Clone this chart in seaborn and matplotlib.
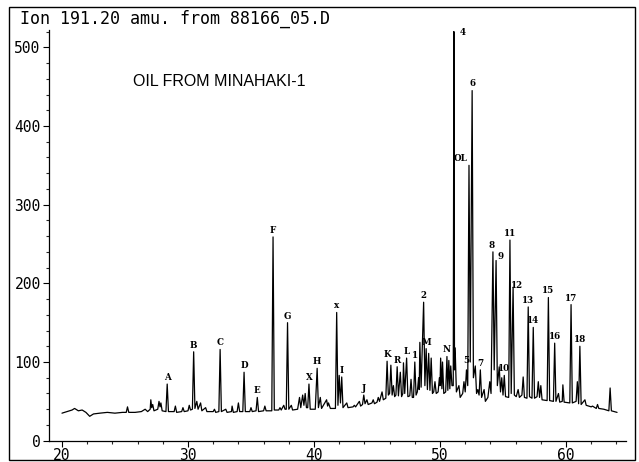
import matplotlib
matplotlib.use("Agg")
import matplotlib.pyplot as plt
from matplotlib.patches import Rectangle
from matplotlib.ticker import MultipleLocator
import seaborn as sns
import pandas as pd

# ---- data (retention time [min], abundance) ----
retention_time = [
    20.0, 20.4, 20.8, 21.0, 21.3, 21.6, 21.9, 22.2, 22.5, 23.0, 23.6, 24.2, 24.8, 25.1, 25.2, 25.3,
    25.8, 26.3, 26.6, 26.8, 27.0, 27.05, 27.12, 27.2, 27.3, 27.6, 27.7, 27.78, 27.85, 27.95,
    28.25, 28.35, 28.45, 28.9, 29.0, 29.1, 29.5, 29.6, 29.7, 30.0, 30.1, 30.2, 30.35, 30.45,
    30.55, 30.7, 30.8, 31.0, 31.1, 31.4, 31.5, 32.0, 32.1, 32.2, 32.45, 32.55, 32.65, 33.0,
    33.1, 33.45, 33.5, 33.6, 33.9, 34.0, 34.1, 34.35, 34.45, 34.55, 34.9, 35.0, 35.1, 35.4,
    35.5, 35.6, 36.0, 36.1, 36.2, 36.65, 36.75, 36.85, 37.2, 37.3, 37.4, 37.6, 37.7, 37.8,
    37.9, 38.0, 38.2, 38.3, 38.7, 38.85, 38.95, 39.1, 39.2, 39.3, 39.4, 39.5, 39.6, 39.7,
    40.1, 40.25, 40.35, 40.5, 40.6, 41.0, 41.08, 41.15, 41.3, 41.7, 41.8, 41.9, 42.0, 42.1,
    42.2, 42.3, 42.6, 42.7, 43.1, 43.2, 43.3, 43.6, 43.7, 43.85, 43.95, 44.05, 44.2, 44.3,
    44.6, 44.7, 44.8, 45.0, 45.1, 45.2, 45.4, 45.5, 45.7, 45.8, 45.9, 46.0, 46.1, 46.2,
    46.3, 46.4, 46.5, 46.6, 46.7, 46.85, 46.95, 47.05, 47.1, 47.2, 47.35, 47.45, 47.6, 47.7,
    47.8, 47.9, 48.0, 48.1, 48.2, 48.3, 48.35, 48.4, 48.5, 48.7, 48.8, 48.9, 49.0, 49.1,
    49.2, 49.3, 49.4, 49.5, 49.6, 49.7, 49.85, 49.95, 50.0, 50.05, 50.15, 50.2, 50.3, 50.45,
    50.55, 50.62, 50.7, 50.78, 50.85, 50.95, 51.05, 51.1, 51.15, 51.2, 51.3, 51.5, 51.6, 51.8,
    51.9, 52.0, 52.1, 52.2, 52.3, 52.4, 52.55, 52.65, 52.8, 52.9, 53.0, 53.1, 53.2, 53.3,
    53.5, 53.6, 53.8, 53.95, 54.05, 54.2, 54.3, 54.45, 54.55, 54.7, 54.8, 54.9, 55.0, 55.1,
    55.2, 55.45, 55.55, 55.65, 55.8, 55.9, 56.05, 56.2, 56.3, 56.5, 56.6, 56.7, 56.9, 57.0,
    57.1, 57.3, 57.4, 57.5, 57.7, 57.8, 57.9, 58.0, 58.1, 58.5, 58.6, 58.7, 59.0, 59.1,
    59.2, 59.4, 59.5, 59.7, 59.75, 59.85, 60.3, 60.4, 60.5, 60.8, 60.9, 61.0, 61.1, 61.2,
    61.5, 61.6, 62.0, 62.1, 62.4, 62.5, 62.6, 63.0, 63.4, 63.5, 63.6, 64.05,
]
abundance = [
    35, 37, 39, 41, 38, 39, 36, 31, 34, 35, 36, 35, 36, 36, 43, 36,
    36, 37, 40, 37, 40, 52, 42, 46, 38, 40, 50, 43, 48, 38,
    37, 72, 37, 37, 44, 36, 37, 42, 37, 38, 45, 39, 40, 113,
    41, 50, 40, 48, 38, 42, 37, 37, 40, 36, 37, 116, 37, 40,
    36, 37, 44, 36, 37, 48, 37, 37, 87, 37, 37, 42, 37, 38,
    55, 37, 38, 44, 38, 38, 259, 39, 39, 42, 39, 45, 40, 40,
    150, 40, 45, 39, 40, 55, 42, 58, 45, 60, 42, 42, 72, 40,
    40, 92, 42, 55, 41, 52, 44, 48, 41, 41, 163, 45, 83, 48,
    81, 42, 48, 42, 43, 45, 43, 50, 44, 46, 58, 47, 52, 46,
    48, 52, 47, 49, 55, 50, 62, 52, 54, 101, 58, 60, 96, 58,
    70, 56, 58, 94, 57, 87, 56, 60, 99, 60, 105, 56, 57, 78,
    55, 55, 100, 58, 62, 80, 65, 125, 68, 176, 70, 117, 65, 111,
    64, 105, 60, 62, 75, 60, 62, 80, 70, 105, 66, 100, 60, 62,
    107, 64, 102, 66, 95, 70, 70, 520, 90, 118, 62, 70, 55, 60,
    75, 62, 90, 70, 350, 100, 445, 80, 95, 60, 65, 58, 90, 55,
    65, 50, 55, 75, 60, 240, 90, 229, 70, 94, 62, 80, 58, 83,
    56, 55, 255, 60, 195, 58, 56, 65, 55, 58, 81, 55, 54, 170,
    56, 54, 144, 54, 56, 75, 55, 70, 52, 51, 182, 51, 50, 124,
    50, 60, 49, 50, 71, 49, 48, 173, 48, 50, 75, 47, 120, 46,
    52, 45, 43, 44, 41, 46, 41, 40, 38, 67, 38, 36,
]

# ---- peak labels ----
peak_labels = ["A", "B", "C", "D", "E", "F", "G", "X", "H", "x", "I", "J", "K", "R", "L",
               "1", "2", "M", "N", "4", "5", "OL", "6", "7", "8", "9", "10", "11", "12",
               "13", "14", "15", "16", "17", "18"]
peak_times = [28.35, 30.45, 32.55, 34.45, 35.5, 36.75, 37.9, 39.6, 40.25, 41.8, 42.2, 43.95,
              45.8, 46.6, 47.35, 48.0, 48.7, 48.9, 50.55, 51.1, 51.9, 52.3, 52.55, 53.2,
              54.2, 54.45, 55.1, 55.55, 55.8, 57.0, 57.4, 58.6, 59.1, 60.4, 61.1]
peak_heights = [72, 113, 116, 87, 55, 259, 150, 72, 92, 163, 81, 58,
                101, 94, 105, 100, 176, 117, 107, 520, 75, 350, 445, 90,
                240, 229, 83, 255, 195, 170, 144, 182, 124, 173, 120]

title_text = "Ion 191.20 amu. from 88166_05.D"
sample_text = "OIL FROM MINAHAKI-1"
x_ticks = [20, 30, 40, 50, 60]
y_ticks = [0, 100, 200, 300, 400, 500]

# ---- figure ----
sns.set_style("ticks")
plt.rcParams["font.family"] = ["DejaVu Sans Mono", "DejaVu Sans"]

fig = plt.figure(figsize=(6.39, 4.62), dpi=100)
ax = fig.add_axes([49 / 639, 21.3 / 462, (626 - 49) / 639, (440.7 - 30) / 462])

df = pd.DataFrame({"time": retention_time, "abundance": abundance})
sns.lineplot(data=df, x="time", y="abundance", ax=ax, color="black",
             linewidth=0.9, sort=False, estimator=None)

ax.set_xlim(18.97, 64.76)
ax.set_ylim(0, 522)
ax.set_xticks(x_ticks)
ax.set_yticks(y_ticks)
ax.set_xticklabels([str(v) for v in x_ticks])
ax.set_yticklabels([str(v) for v in y_ticks])
ax.xaxis.set_minor_locator(MultipleLocator(2))
ax.yaxis.set_minor_locator(MultipleLocator(20))
ax.tick_params(axis="both", which="major", direction="out", length=4, width=0.8,
               labelsize=10.5, pad=2, colors="black")
ax.tick_params(axis="x", which="major", pad=1)
ax.tick_params(axis="both", which="minor", direction="out", length=2.5, width=0.8)
ax.set_xlabel("")
ax.set_ylabel("")
for s in ("top", "right"):
    ax.spines[s].set_visible(False)
for s in ("left", "bottom"):
    ax.spines[s].set_linewidth(0.9)
    ax.spines[s].set_color("black")

# peak annotations
special = {"4": (4, -1, "left", "center"), "OL": (-1, 2, "right", "bottom"),
           "5": (2, 12, "center", "bottom"), "9": (3, 0, "center", "bottom"),
           "12": (3, -2, "center", "bottom"), "8": (-1, 1, "center", "bottom")}
for lab, t, h in zip(peak_labels, peak_times, peak_heights):
    dx, dy, ha, va = special.get(lab, (0, 1.5, "center", "bottom"))
    ax.annotate(lab, xy=(t, h), xytext=(dx, dy), textcoords="offset points",
                ha=ha, va=va, fontsize=6.3, fontweight="bold", family="DejaVu Serif",
                color="black")

ax.text(25.6, 457, sample_text, fontsize=11.5, family="Liberation Sans",
        ha="left", va="center", color="black")

fig.text(20 / 639, 1 - 18.5 / 462, title_text, fontsize=12, family="DejaVu Sans Mono",
         ha="left", va="center", color="black")

fig.patches.append(Rectangle((9 / 639, 2 / 462), (635 - 9) / 639, (460 - 7) / 462,
                             transform=fig.transFigure, fill=False, edgecolor="black",
                             linewidth=1.0))

fig.savefig("out.png", dpi=100)
